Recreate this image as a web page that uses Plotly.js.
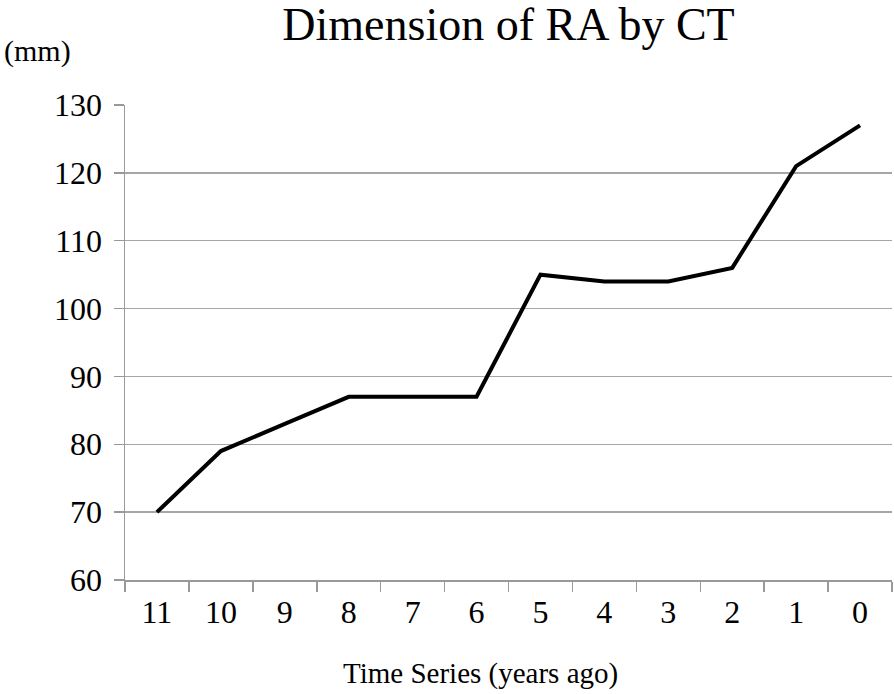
<!DOCTYPE html>
<html>
<head>
<meta charset="utf-8">
<script src="https://cdn.plot.ly/plotly-3.0.1.min.js"></script>
<style>html,body{margin:0;padding:0;background:#fff;}#chart{width:894px;height:694px;}</style>
</head>
<body>
<div id="chart"></div>
<script>
const categories = ["11","10","9","8","7","6","5","4","3","2","1","0"];
const dimensionMm = [70, 79, 83, 87, 87, 87, 105, 104, 104, 106, 121, 127];
const yTicks = [60, 70, 80, 90, 100, 110, 120, 130];

const font = "Liberation Serif, Times New Roman, serif";
const trace = {
  x: categories, y: dimensionMm, type: "scatter", mode: "lines",
  line: {color: "#000", width: 4}, hoverinfo: "skip"
};
const layout = {
  width: 894, height: 694,
  margin: {l: 125, r: 2, t: 105, b: 114},
  paper_bgcolor: "#fff", plot_bgcolor: "#fff",
  showlegend: false,
  font: {family: font, color: "#000"},
  title: {text: "Dimension of RA by CT", font: {family: font, size: 46, color: "#000"},
          x: 0.5, xref: "paper", y: 0.965, yref: "container", yanchor: "middle"},
  xaxis: {
    type: "category", range: [-0.5, 11.5], tickson: "boundaries",
    showgrid: false, showline: true, linecolor: "#999", linewidth: 1.5,
    ticks: "outside", ticklen: 10, tickcolor: "#999", tickwidth: 1.5,
    tickfont: {family: font, size: 32, color: "#000"},
    ticklabelstandoff: 3,
    zeroline: false, fixedrange: true
  },
  yaxis: {
    range: [60, 130], tickvals: yTicks, ticktext: yTicks.map(String),
    showgrid: true, gridcolor: "#a6a6a6", gridwidth: 1.5,
    showline: true, linecolor: "#999", linewidth: 1.5,
    ticks: "outside", ticklen: 10, tickcolor: "#999", tickwidth: 1.5,
    tickfont: {family: font, size: 32, color: "#000"},
    ticklabelstandoff: 5,
    zeroline: false, fixedrange: true
  },
  annotations: [{
    text: "(mm)", xref: "paper", yref: "paper", x: -0.161, y: 1.114,
    xanchor: "left", yanchor: "middle", showarrow: false,
    font: {family: font, size: 30, color: "#000"}
  }, {
    text: "Time Series (years ago)", xref: "paper", yref: "paper", x: 0.464, y: -0.197,
    xanchor: "center", yanchor: "middle", showarrow: false,
    font: {family: font, size: 29, color: "#000"}
  }]
};
Plotly.newPlot("chart", [trace], layout, {displayModeBar: false, staticPlot: true});
</script>
</body>
</html>
